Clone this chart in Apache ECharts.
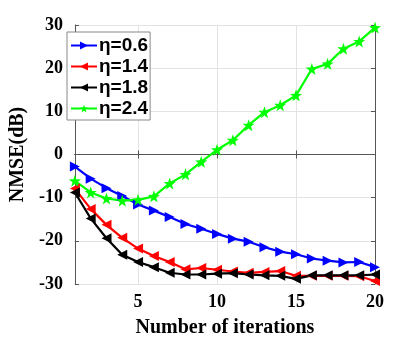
<!DOCTYPE html>
<html>
<head>
<meta charset="utf-8">
<script src="https://cdn.jsdelivr.net/npm/echarts@6/dist/echarts.min.js"></script>
<style>
  html, body { margin: 0; padding: 0; background: #fff; }
  #main { width: 415px; height: 343px; }
</style>
</head>
<body>
<div id="main"></div>
<script>
var iterations = [1, 2, 3, 4, 5, 6, 7, 8, 9, 10, 11, 12, 13, 14, 15, 16, 17, 18, 19, 20];
var eta06 = [-2.8, -5.6, -7.8, -9.6, -11.6, -13.0, -14.5, -16.1, -17.2, -18.4, -19.5, -20.2, -21.5, -22.5, -23.1, -24.1, -24.6, -25.0, -24.9, -26.1];
var eta14 = [-7.9, -12.6, -16.3, -19.3, -21.8, -23.5, -24.9, -26.6, -26.3, -26.7, -27.1, -27.4, -27.2, -27.0, -28.1, -28.1, -28.1, -28.1, -28.2, -29.3];
var eta18 = [-8.8, -14.8, -19.4, -23.2, -24.9, -26.1, -27.4, -27.8, -27.8, -27.6, -27.5, -27.8, -28.0, -28.1, -28.8, -28.0, -28.0, -28.0, -28.0, -27.8];
var eta24 = [-6.1, -8.8, -10.2, -10.7, -10.5, -9.7, -6.7, -4.6, -1.7, 1.1, 3.3, 6.8, 9.8, 11.4, 13.7, 19.8, 21.0, 24.5, 26.2, 29.4];
var names = ['η=0.6', 'η=1.4', 'η=1.8', 'η=2.4'];
var xTicks = [5, 10, 15, 20];

var chart = echarts.init(document.getElementById('main'));

var star = 'path://M0,-10 L2.35,-3.24 L9.51,-3.09 L3.80,1.24 L5.88,8.09 L0,4 L-5.88,8.09 L-3.80,1.24 L-9.51,-3.09 L-2.35,-3.24 Z';
var serif = '"Liberation Serif", "Times New Roman", serif';

function pairs(arr) {
  return arr.map(function (v, i) { return [iterations[i], v]; });
}

function mkSeries(name, data, color, symbol, rotate, size) {
  return {
    name: name,
    type: 'line',
    data: pairs(data),
    symbol: symbol,
    symbolRotate: rotate,
    symbolSize: size,
    lineStyle: { color: color, width: 2.2 },
    itemStyle: { color: color },
    emphasis: { disabled: true },
    z: 3
  };
}

var option = {
  animation: false,
  backgroundColor: '#fff',
  grid: { left: 64, top: 25, right: 40, bottom: 58 },
  legend: {
    left: 67,
    top: 32,
    orient: 'vertical',
    backgroundColor: '#fff',
    borderColor: '#888',
    borderWidth: 1,
    borderRadius: 0,
    padding: [4, 2, 2, 3],
    itemGap: 2,
    itemWidth: 26,
    itemHeight: 10,
    textStyle: { fontFamily: '"Liberation Sans", Arial, sans-serif', fontWeight: 'bold', fontSize: 19, color: '#000', padding: [0, 0, 0, -3] },
    data: names
  },
  xAxis: [{
    type: 'value',
    min: 1,
    max: 20,
    name: 'Number of iterations',
    nameLocation: 'middle',
    nameGap: 34,
    nameTextStyle: { fontFamily: serif, fontWeight: 'bold', fontSize: 20, color: '#000' },
    axisLine: { lineStyle: { color: '#555', width: 1 } },
    axisTick: { inside: true, length: 4, customValues: xTicks, lineStyle: { color: '#555' } },
    axisLabel: { customValues: xTicks, fontFamily: serif, fontWeight: 'bold', fontSize: 18, color: '#000', margin: 9 },
    splitLine: { show: true, lineStyle: { color: '#e3e3e3', width: 1 } }
  }, {
    type: 'value',
    min: 1,
    max: 20,
    position: 'top',
    axisLine: { lineStyle: { color: '#555', width: 1 } },
    axisTick: { inside: true, length: 4, customValues: xTicks, lineStyle: { color: '#555' } },
    axisLabel: { show: false },
    splitLine: { show: false }
  }],
  yAxis: [{
    type: 'value',
    min: -30,
    max: 30,
    interval: 10,
    name: 'NMSE(dB)',
    nameLocation: 'middle',
    nameGap: 36,
    nameTextStyle: { fontFamily: serif, fontWeight: 'bold', fontSize: 20, color: '#000' },
    axisLine: { show: true, lineStyle: { color: '#555', width: 1 } },
    axisTick: { show: true, inside: true, length: 4, lineStyle: { color: '#555' } },
    axisLabel: { fontFamily: serif, fontWeight: 'bold', fontSize: 18, color: '#000', margin: 12 },
    splitLine: { show: true, lineStyle: { color: '#e3e3e3', width: 1 } }
  }, {
    type: 'value',
    min: -30,
    max: 30,
    interval: 10,
    position: 'right',
    axisLine: { show: true, lineStyle: { color: '#555', width: 1 } },
    axisTick: { show: true, inside: true, length: 4, lineStyle: { color: '#555' } },
    axisLabel: { show: false },
    splitLine: { show: false }
  }],
  series: [
    mkSeries(names[0], eta06, '#0000ff', 'triangle', -90, 10),
    mkSeries(names[1], eta14, '#ff0000', 'triangle', 90, 10),
    mkSeries(names[2], eta18, '#000000', 'triangle', 90, 10),
    mkSeries(names[3], eta24, '#00ff00', star, 0, 12)
  ]
};

chart.setOption(option);
</script>
</body>
</html>
